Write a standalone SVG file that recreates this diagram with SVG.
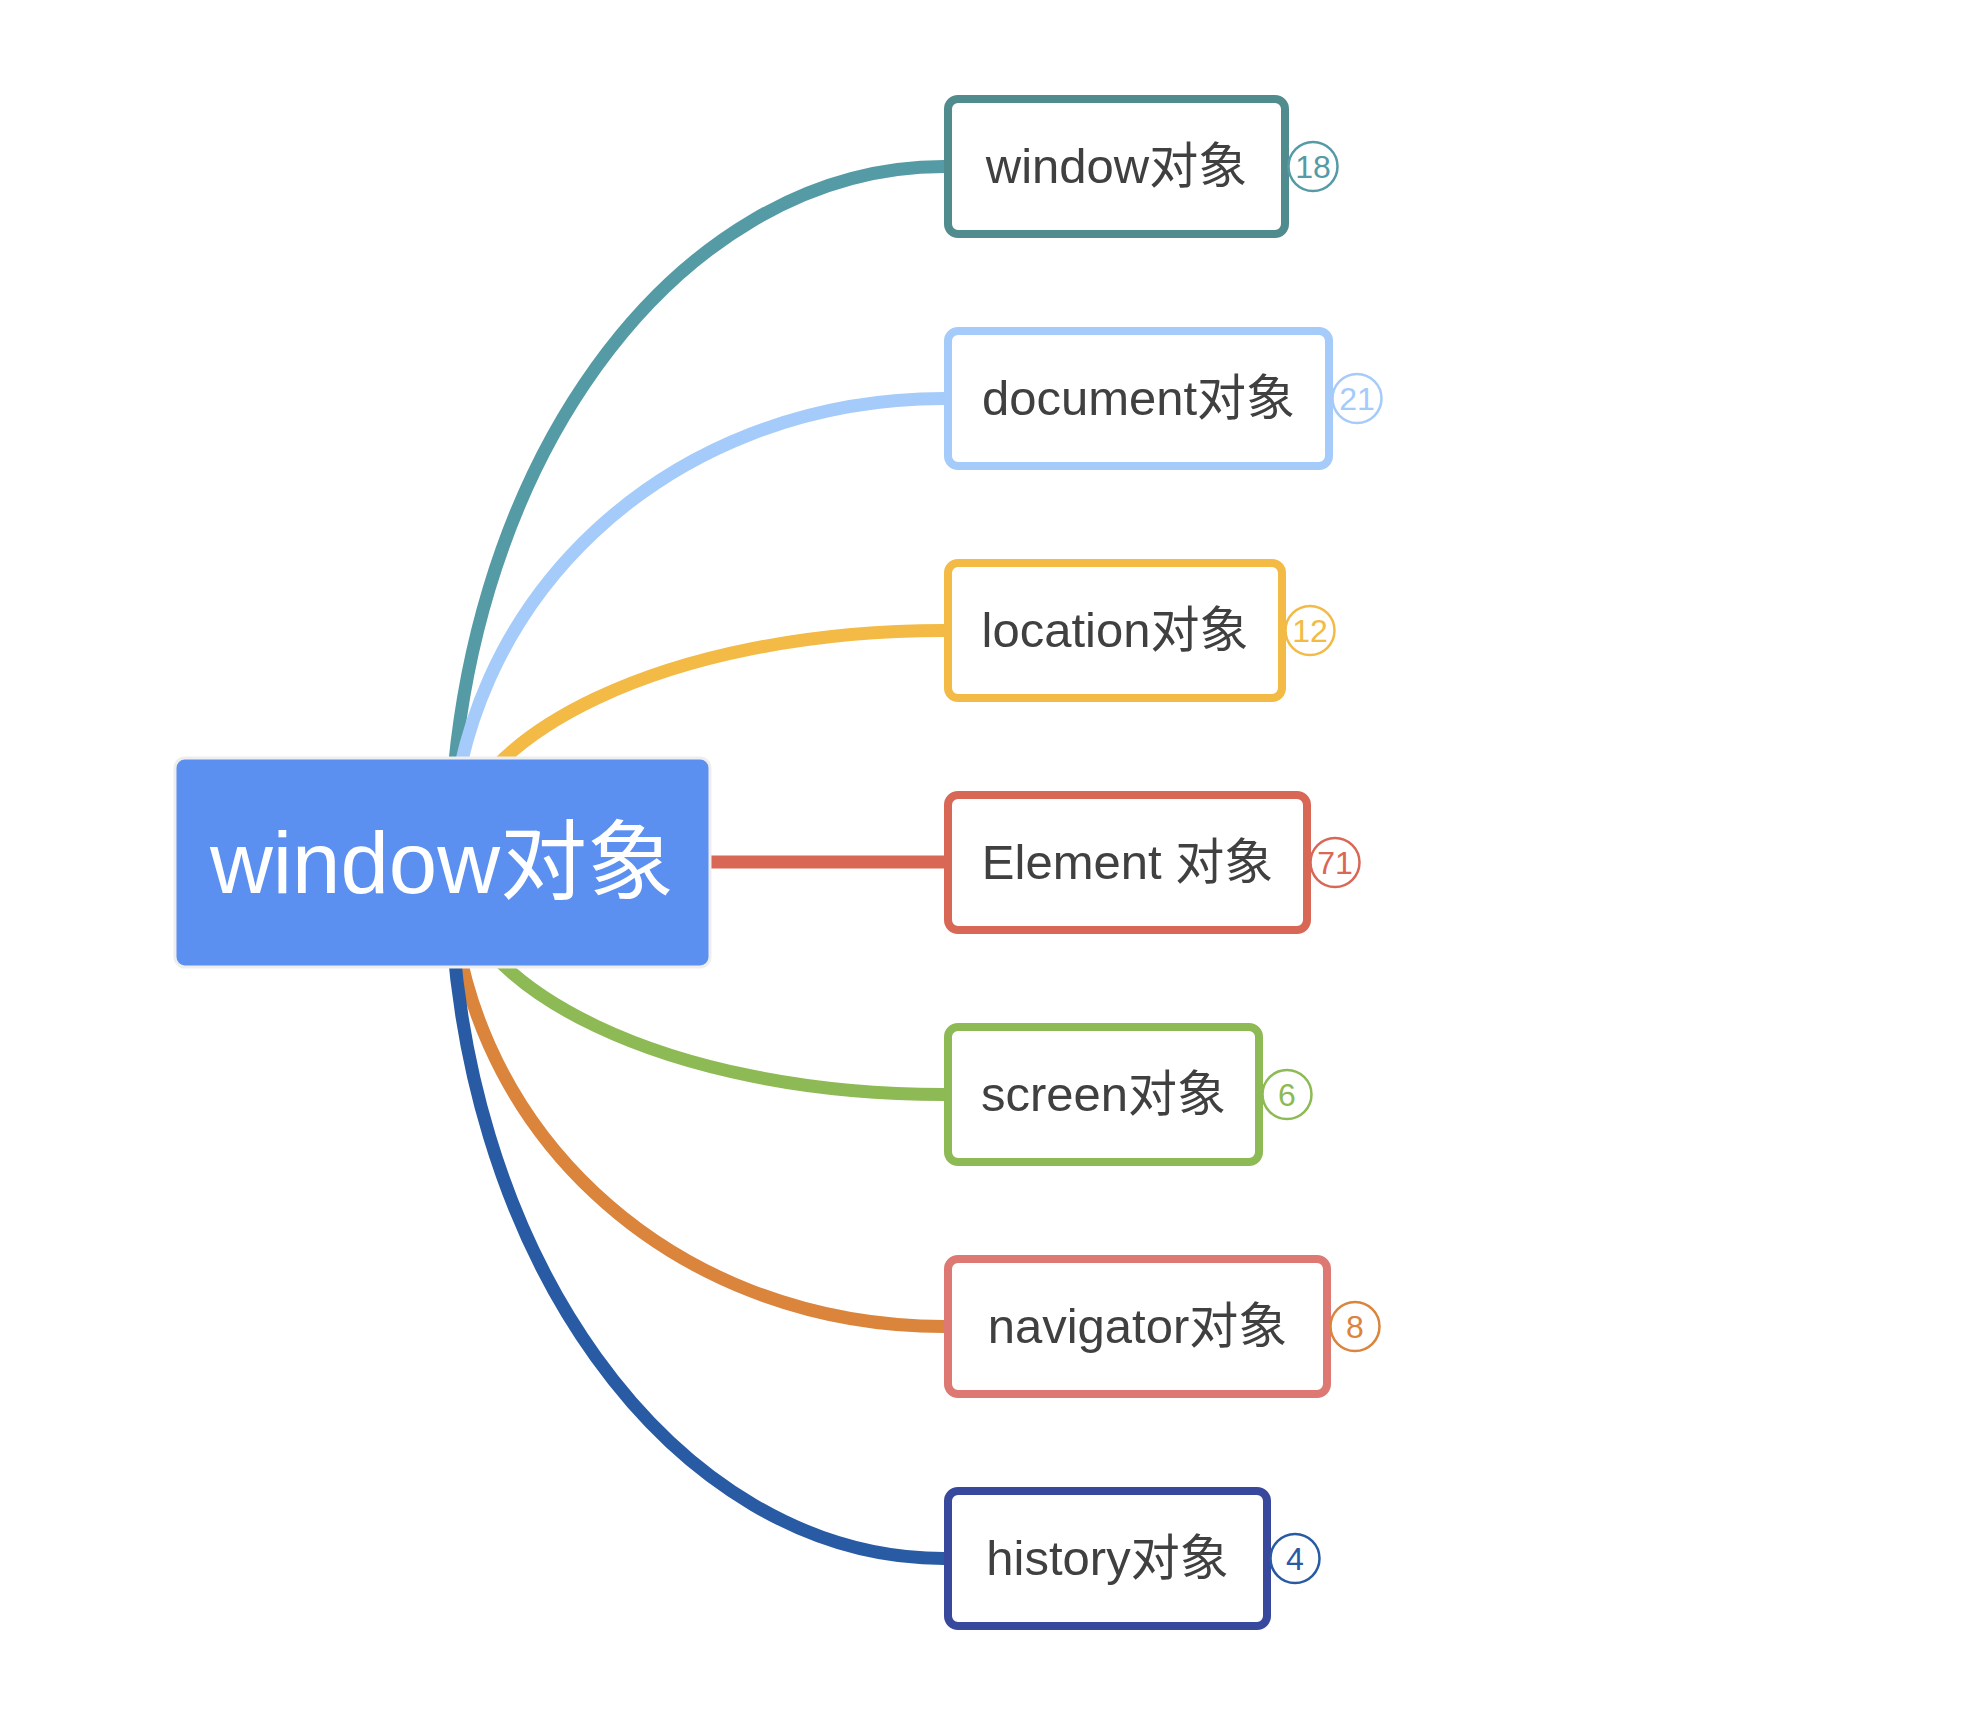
<svg xmlns="http://www.w3.org/2000/svg" width="1982" height="1718" viewBox="0 0 1982 1718">
<style>
.conn{fill:none;stroke-width:13;stroke-linecap:butt}
.box{fill:#FFFFFF;stroke-width:8}
.lbl{font-family:"Liberation Sans","Noto Sans CJK SC",sans-serif;font-size:49px;fill:#404040;text-anchor:middle}
.badge{fill:#FFFFFF;stroke-width:2.5}
.num{font-family:"Liberation Sans","Noto Sans CJK SC",sans-serif;font-size:32px;text-anchor:middle}
.root{font-family:"Liberation Sans","Noto Sans CJK SC",sans-serif;font-size:87px;fill:#FFFFFF;text-anchor:middle}
</style>
<rect x="0" y="0" width="1982" height="1718" fill="#FFFFFF"/>
<g id="connectors">
<path class="conn" stroke="#559BA6" d="M450 862 C450 470 675 166.5 944 166.5"/>
<path class="conn" stroke="#A5CBFA" d="M450 862 C452 600 668 398.5 944 398.5"/>
<path class="conn" stroke="#F3BA45" d="M450 862 C455 734 671 630.5 944 630.5"/>
<path class="conn" stroke="#D96756" d="M690 862 L944 862"/>
<path class="conn" stroke="#8DBA55" d="M450 862 C455 990 671 1094.5 944 1094.5"/>
<path class="conn" stroke="#DA843C" d="M450 862 C452 1124 668 1326.5 944 1326.5"/>
<path class="conn" stroke="#285BA4" d="M450 862 C450 1254 675 1558.5 944 1558.5"/>
</g>
<g id="root">
<rect x="175" y="758" width="535" height="209" rx="10" fill="#5B8FF0" stroke="#EEEEEE" stroke-width="3"/>
<text class="root" x="442" y="893">window对象</text>
</g>
<g id="n-window">
<rect class="box" x="948" y="99" width="337" height="135" rx="10" stroke="#508C8E"/>
<text class="lbl" x="1116.5" y="183">window对象</text>
<circle class="badge" cx="1313" cy="166.5" r="24.5" stroke="#559BA6"/>
<text class="num" x="1313" y="178" fill="#559BA6">18</text>
</g>
<g id="n-document">
<rect class="box" x="948" y="331" width="381" height="135" rx="10" stroke="#A5CBFA"/>
<text class="lbl" x="1138.5" y="415">document对象</text>
<circle class="badge" cx="1357" cy="398.5" r="24.5" stroke="#A5CBFA"/>
<text class="num" x="1357" y="410" fill="#A5CBFA">21</text>
</g>
<g id="n-location">
<rect class="box" x="948" y="563" width="334" height="135" rx="10" stroke="#F3BA45"/>
<text class="lbl" x="1115" y="647">location对象</text>
<circle class="badge" cx="1310" cy="630.5" r="24.5" stroke="#F3BA45"/>
<text class="num" x="1310" y="642" fill="#F3BA45">12</text>
</g>
<g id="n-element">
<rect class="box" x="948" y="795" width="359" height="135" rx="10" stroke="#D96756"/>
<text class="lbl" x="1127.5" y="879">Element 对象</text>
<circle class="badge" cx="1335" cy="862.5" r="24.5" stroke="#D96756"/>
<text class="num" x="1335" y="874" fill="#D96756">71</text>
</g>
<g id="n-screen">
<rect class="box" x="948" y="1027" width="311" height="135" rx="10" stroke="#8DBA55"/>
<text class="lbl" x="1103.5" y="1111">screen对象</text>
<circle class="badge" cx="1287" cy="1094.5" r="24.5" stroke="#8DBA55"/>
<text class="num" x="1287" y="1106" fill="#8DBA55">6</text>
</g>
<g id="n-navigator">
<rect class="box" x="948" y="1259" width="379" height="135" rx="10" stroke="#DD7872"/>
<text class="lbl" x="1137.5" y="1343">navigator对象</text>
<circle class="badge" cx="1355" cy="1326.5" r="24.5" stroke="#DA843C"/>
<text class="num" x="1355" y="1338" fill="#DA843C">8</text>
</g>
<g id="n-history">
<rect class="box" x="948" y="1491" width="319" height="135" rx="10" stroke="#37489D"/>
<text class="lbl" x="1107.5" y="1575">history对象</text>
<circle class="badge" cx="1295" cy="1558.5" r="24.5" stroke="#285BA4"/>
<text class="num" x="1295" y="1570" fill="#285BA4">4</text>
</g>
</svg>
